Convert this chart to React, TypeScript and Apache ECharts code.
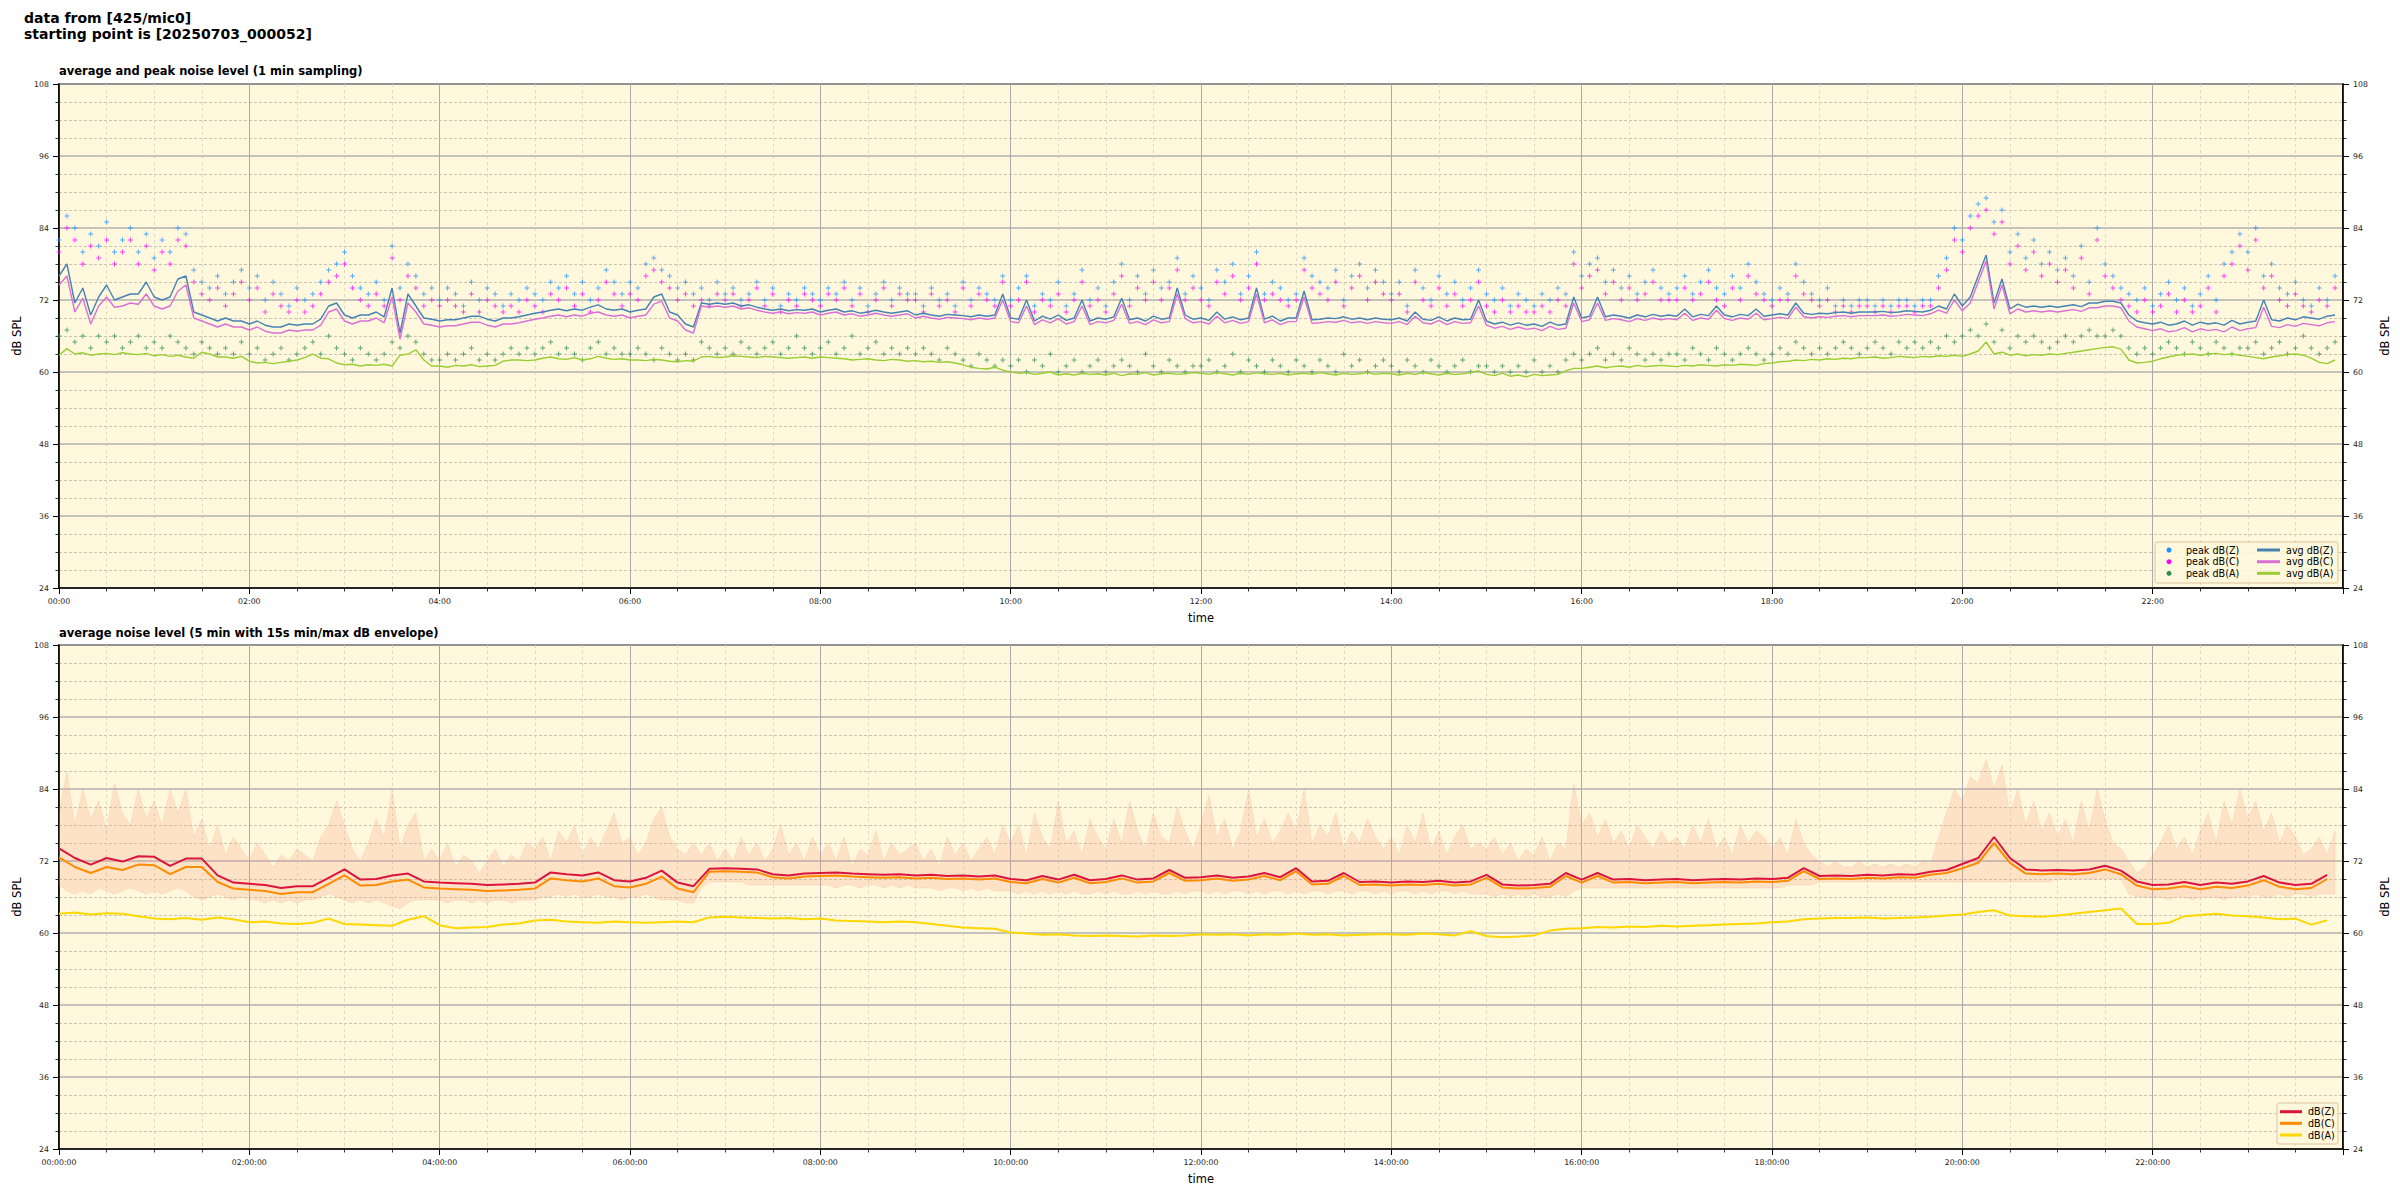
import React, { useEffect, useRef } from "react";
import * as echarts from "echarts";

// ---------- DATA ----------
// top panel: 5-minute samples (minutes since 00:00 = index * 5)
const STEP_TOP = 5;
const avgZ = [
  76, 78, 71.5, 74, 69.5, 72.5, 74.5, 72, 72.5, 73, 73, 75,
  72.5, 72, 72.5, 75.5, 76, 70, 69.5, 69, 68.5, 69, 68.5, 68.5,
  68, 68.5, 67.8, 67.5, 67.5, 68, 67.8, 68, 68, 68.8, 71, 71.5,
  69.5, 69, 69.5, 69.5, 70, 69.2, 74, 66.5, 73, 71, 69, 68.8,
  68.5, 68.7, 68.7, 69, 69.3, 69.3, 68.8, 68.5, 69, 69, 69.2, 69.5,
  69.8, 70, 70.3, 70.5, 70.2, 70.5, 70.3, 70.8, 71.2, 70.5, 70.3, 70.5,
  70, 70.3, 70.5, 72.5, 73, 70, 69.5, 68, 67.5, 71.5, 71.3, 71.5,
  71.3, 71.5, 71, 71.2, 70.8, 70.5, 70.3, 70.5, 70.2, 70.4, 70.3, 70.5,
  70, 70.3, 70.5, 70, 70.2, 69.8, 70, 70.3, 70, 69.8, 70, 70.2,
  69.5, 69.8, 69.5, 69.3, 69.6, 69.5, 69.4, 69.2, 69.5, 69.3, 69.5, 73,
  69, 68.8, 72, 68.5, 69.3, 68.8, 69.5, 68.6, 69, 72, 68.5, 69,
  68.8, 69.2, 72.3, 68.7, 69, 68.5, 69.3, 68.8, 69, 74, 69.5, 68.8,
  69, 68.6, 70, 68.8, 69.2, 68.7, 69, 74, 68.8, 69.3, 68.5, 69,
  69, 73.5, 68.7, 68.8, 69, 68.9, 69.2, 68.8, 69, 68.7, 69, 68.8,
  68.7, 69, 68.5, 70, 68.8, 68.6, 69.2, 68.5, 69, 68.7, 68.8, 72,
  68.5, 68, 68.3, 67.8, 68.2, 67.8, 68, 67.6, 68.3, 67.8, 68, 72.5,
  69, 69.3, 72.5, 69.2, 69.5, 69.3, 69, 69.5, 69.2, 69.6, 69.3, 69.5,
  69.3, 70.5, 69.2, 69.6, 69.4, 71, 69.5, 69.2, 69.6, 69.4, 70.5, 69.3,
  69.5, 69.7, 69.5, 71.5, 69.8, 69.6, 69.8, 69.7, 69.9, 70, 69.8, 70,
  70, 70, 70.1, 69.9, 70, 70.2, 70.1, 70, 70.3, 71, 70.5, 73,
  71, 72.5, 76, 79.5, 71.5, 75.5, 70.5, 71.3, 70.8, 71, 70.8, 71,
  70.8, 71, 71.2, 70.9, 71.5, 71.5, 71.8, 71.8, 71.5, 69.5, 68.5, 68.2,
  68, 68.3, 67.8, 68, 68.5, 67.8, 68.3, 68, 68.2, 67.8, 68.6, 68,
  68.3, 68.5, 72, 68.7, 68.5, 69, 68.7, 69.2, 69, 68.8, 69.3, 69.5,
];
const avgC = [
  74.5, 76, 70, 72.3, 68, 71, 72.5, 70.8, 71, 71.5, 71.3, 73,
  71, 70.5, 71, 73.5, 74.5, 69, 68.5, 68, 67.5, 68, 67.5, 67.5,
  67, 67.5, 66.8, 66.5, 66.5, 67, 66.8, 67, 67, 67.8, 70, 70.5,
  68.5, 68, 68.5, 68.5, 69, 68.2, 72.5, 65.5, 71.5, 70, 68, 67.8,
  67.5, 67.7, 67.7, 68, 68.3, 68.3, 67.8, 67.5, 68, 68, 68.2, 68.5,
  68.8, 69, 69.3, 69.5, 69.2, 69.5, 69.3, 69.8, 70, 69.5, 69.3, 69.5,
  69, 69.3, 69.5, 71.3, 71.8, 69, 68.5, 67, 66.5, 71, 70.8, 71,
  70.8, 71, 70.5, 70.7, 70.3, 70, 69.8, 70, 69.7, 69.9, 69.8, 70,
  69.5, 69.8, 70, 69.5, 69.7, 69.3, 69.5, 69.8, 69.5, 69.3, 69.5, 69.7,
  69, 69.3, 69, 68.8, 69.1, 69, 68.9, 68.7, 69, 68.8, 69, 72,
  68.4, 68.2, 71, 67.9, 68.7, 68.2, 68.9, 68, 68.4, 71, 67.9, 68.4,
  68.2, 68.6, 71.3, 68.1, 68.4, 67.9, 68.7, 68.2, 68.4, 73, 68.9, 68.2,
  68.4, 68, 69.3, 68.2, 68.6, 68.1, 68.4, 73, 68.2, 68.7, 67.9, 68.4,
  68.4, 72.5, 68.1, 68.2, 68.4, 68.3, 68.6, 68.2, 68.4, 68.1, 68.4, 68.2,
  68.1, 68.4, 67.9, 69.3, 68.2, 68, 68.6, 67.9, 68.4, 68.1, 68.2, 71,
  67.8, 67.3, 67.6, 67.1, 67.5, 67.1, 67.3, 66.9, 67.6, 67.1, 67.3, 71.5,
  68.4, 68.7, 71.5, 68.6, 68.9, 68.7, 68.4, 68.9, 68.6, 69, 68.7, 68.9,
  68.7, 69.8, 68.6, 69, 68.8, 70.3, 68.9, 68.6, 69, 68.8, 69.8, 68.7,
  68.9, 69.1, 68.9, 70.8, 69.2, 69, 69.2, 69.1, 69.3, 69.4, 69.2, 69.4,
  69.4, 69.4, 69.5, 69.3, 69.4, 69.6, 69.5, 69.4, 69.7, 70.3, 69.8, 72,
  70.2, 71.5, 75, 78.5, 70.5, 74.5, 69.7, 70.5, 70, 70.2, 70, 70.2,
  70, 70.2, 70.4, 70.1, 70.7, 70.7, 71, 71, 70.7, 68.5, 67.5, 67.2,
  66.9, 67.2, 66.7, 66.9, 67.4, 66.7, 67.2, 66.9, 67.1, 66.7, 67.5, 66.9,
  67.2, 67.4, 70.8, 67.6, 67.4, 67.9, 67.6, 68.1, 67.9, 67.7, 68.2, 68.4,
];
const avgA = [
  62.8, 63.9, 63, 63.2, 62.8, 63, 63.1, 62.9, 63.2, 63, 62.9, 63.1,
  62.7, 62.9, 62.6, 62.8, 62.5, 62.3, 63.3, 63, 62.5, 62.5, 62.3, 62.6,
  61.8, 61.5, 61.6, 61.4, 61.6, 61.8, 62, 62.4, 63, 62.3, 62.2, 61.5,
  61.2, 61.3, 61, 61.2, 61.1, 61.3, 61, 62.8, 63, 63.7, 62, 61,
  61, 60.8, 61.1, 61, 61.2, 60.9, 61, 61.1, 61.8, 62, 62, 61.9,
  62, 62.3, 62.5, 62.2, 62.1, 62.4, 62, 62.2, 62.6, 62.3, 62.1, 62.2,
  62, 62, 61.9, 62.1, 62, 61.8, 61.7, 61.9, 61.8, 62.5, 62.6, 62.4,
  62.5, 62.7, 62.6, 62.5, 62.4, 62.6, 62.5, 62.4, 62.3, 62.4, 62.5, 62.3,
  62.5, 62.4, 62.3, 62.2, 62, 62.1, 62.2, 62, 61.9, 62.1, 62, 61.8,
  61.9, 61.7, 61.8, 61.6, 61.7, 61.5, 61.2, 60.8, 60.6, 60.5, 60.8, 60.3,
  60, 59.8, 59.9, 59.6, 59.8, 60, 59.5, 59.7, 59.5, 59.8, 59.6, 59.7,
  59.5, 59.8, 59.4, 59.7, 59.6, 59.9, 59.5, 59.7, 59.8, 59.6, 59.7, 59.9,
  59.8, 59.6, 59.9, 59.7, 59.5, 59.8, 59.6, 59.9, 59.7, 59.6, 59.8, 59.5,
  59.7, 59.8, 59.6, 59.9, 59.7, 59.5, 59.8, 59.6, 59.7, 59.9, 59.6, 59.8,
  59.7, 59.5, 59.8, 59.6, 59.9, 59.7, 59.5, 59.8, 59.6, 59.7, 59.9, 60.2,
  59.6, 59.4, 59.8, 59.3, 59.5, 59.2, 59.6, 59.4, 59.5, 59.6, 60.2, 60.6,
  60.6, 60.8, 61, 60.7, 60.9, 61, 60.8, 61.1, 60.9, 61, 61.1, 61,
  60.9, 61.1, 61, 61.2, 61.1, 61, 61.2, 61.1, 61.3, 61.2, 61.1, 61.4,
  61.5, 61.7, 61.8, 62, 61.9, 62.1, 62, 62.2, 62.1, 62.3, 62.2, 62.4,
  62.4, 62.5, 62.3, 62.4, 62.6, 62.5, 62.4, 62.6, 62.5, 62.7, 62.6, 62.8,
  62.6, 63, 63.5, 65, 63, 63.3, 62.8, 63, 62.7, 62.9, 62.8, 63,
  62.9, 63.1, 63.3, 63.5, 63.7, 63.9, 64.1, 64.2, 63.8, 62, 61.5, 61.6,
  61.8, 62.2, 62.5, 62.8, 62.9, 63, 62.8, 63, 63.1, 62.9, 63, 62.8,
  62.6, 62.4, 62.2, 62.5, 62.7, 62.9, 63, 62.8, 62.3, 61.6, 61.4, 62,
];
const peakZ = [
  82, 86, 84, 80, 83, 81, 85, 80, 82, 84, 80, 83,
  79, 82, 80, 84, 83, 77, 75, 74, 76, 73, 75, 77,
  74, 76, 72, 75, 73, 71, 74, 72, 73, 75, 77, 78,
  80, 76, 74, 73, 75, 72, 81, 74, 78, 76, 73, 74,
  72, 74, 73, 71, 75, 72, 74, 73, 71, 73, 72, 74,
  73, 72, 75, 74, 76, 73, 75, 72, 74, 77, 75, 73,
  75, 74, 78, 79, 77, 76, 74, 75, 73, 74, 72, 75,
  73, 74, 72, 73, 75, 72, 74, 71, 73, 72, 74, 73,
  72, 74, 73, 75, 72, 74, 71, 73, 75, 72, 74, 73,
  73, 71, 74, 72, 73, 71, 75, 72, 74, 73, 72, 76,
  72, 74, 76, 71, 73, 72, 75, 71, 73, 77, 72, 74,
  71, 75, 78, 72, 76, 73, 77, 74, 75, 79, 73, 76,
  74, 72, 77, 75, 78, 73, 76, 80, 73, 75, 74, 72,
  73, 79, 76, 75, 74, 77, 72, 76, 78, 74, 77, 75,
  73, 75, 71, 77, 74, 72, 76, 73, 75, 72, 74, 77,
  73, 72, 74, 71, 73, 72, 71, 73, 72, 74, 73, 80,
  76, 78, 79, 75, 77, 74, 76, 73, 75, 77, 74, 73,
  74, 76, 73, 75, 77, 74, 73, 76, 74, 78, 75, 73,
  72, 74, 73, 78, 75, 73, 72, 74, 71, 72, 71, 72,
  72, 71, 72, 71, 72, 72, 71, 72, 72, 76, 79, 84,
  82, 86, 88, 89, 85, 87, 80, 83, 79, 82, 78, 80,
  77, 79, 76, 81, 75, 84, 78, 76, 74, 73, 72, 74,
  71, 73, 75, 72, 74, 71, 73, 76, 72, 78, 80, 83,
  80, 84, 76, 78, 74, 73, 75, 72, 71, 74, 72, 76,
];
const peakC = [
  80, 84, 82, 78, 81, 79, 82, 78, 80, 82, 78, 81,
  77, 80, 78, 82, 81, 75, 73, 72, 74, 71, 73, 75,
  72, 74, 70, 73, 71, 70, 72, 70, 71, 73, 75, 76,
  78, 74, 72, 71, 73, 71, 79, 72, 76, 74, 71, 72,
  71, 72, 71, 70, 73, 70, 72, 71, 70, 71, 70, 72,
  71, 70, 73, 72, 74, 71, 73, 70, 72, 75, 73, 71,
  73, 72, 76, 77, 75, 74, 72, 73, 71, 72, 71, 73,
  72, 73, 71, 72, 74, 71, 73, 70, 72, 71, 73, 72,
  71, 73, 72, 74, 71, 73, 70, 72, 74, 71, 73, 72,
  72, 70, 73, 71, 72, 70, 74, 71, 73, 72, 71, 75,
  71, 72, 75, 70, 72, 71, 73, 70, 72, 75, 71, 72,
  70, 73, 76, 71, 74, 72, 75, 72, 74, 77, 72, 74,
  72, 71, 75, 73, 76, 72, 74, 78, 72, 73, 72, 71,
  72, 77, 74, 73, 72, 75, 71, 74, 76, 72, 75, 73,
  72, 73, 70, 75, 72, 71, 74, 71, 73, 71, 72, 75,
  71, 70, 72, 70, 71, 70, 70, 71, 70, 72, 71, 78,
  74, 76, 77, 73, 75, 72, 74, 72, 73, 75, 72, 72,
  72, 74, 72, 73, 75, 72, 71, 74, 72, 76, 73, 72,
  71, 72, 72, 76, 73, 72, 71, 72, 70, 71, 70, 71,
  71, 70, 71, 70, 71, 71, 70, 71, 71, 74, 77, 82,
  80, 84, 86, 87, 83, 85, 78, 81, 77, 80, 76, 78,
  75, 77, 74, 79, 73, 82, 76, 74, 72, 71, 70, 72,
  70, 71, 73, 70, 72, 70, 71, 74, 70, 76, 78, 81,
  77, 82, 74, 76, 72, 71, 73, 71, 70, 72, 71, 74,
];
const peakA = [
  66, 67, 65, 66, 64, 66, 65, 66, 64, 65, 66, 64,
  65, 64, 66, 65, 64, 63, 65, 64, 63, 64, 63, 65,
  63, 64, 62, 63, 64, 62, 63, 64, 65, 63, 66, 64,
  63, 62, 64, 63, 62, 63, 65, 64, 66, 65, 63, 62,
  62, 63, 62, 63, 64, 62, 63, 62, 63, 64, 63, 64,
  63, 64, 65, 63, 64, 63, 62, 64, 65, 63, 64, 63,
  63, 64, 63, 62, 64, 63, 62, 63, 62, 65, 64, 63,
  64, 63, 65, 64, 63, 64, 65, 63, 64, 66, 64, 63,
  64, 65, 63, 64, 66, 63, 64, 65, 63, 64, 63, 64,
  63, 64, 63, 62, 64, 63, 62, 61, 63, 62, 61, 62,
  61, 62, 60, 62, 61, 63, 60, 61, 62, 60, 61, 62,
  60, 61, 62, 61, 60, 63, 61, 60, 62, 61, 60, 61,
  61, 62, 60, 61, 63, 60, 62, 61, 60, 62, 61, 60,
  62, 61, 60, 62, 61, 60, 63, 61, 62, 60, 61, 62,
  61, 60, 62, 61, 60, 62, 61, 60, 61, 62, 60, 61,
  61, 60, 61, 60, 61, 60, 62, 60, 61, 60, 62, 63,
  62, 63, 64, 62, 63, 62, 64, 63, 62, 63, 62, 63,
  63, 62, 64, 63, 62, 64, 63, 62, 63, 64, 63, 62,
  63, 64, 63, 65, 64, 63, 64, 63, 64, 65, 64, 63,
  64, 65, 64, 63, 65, 64, 65, 64, 65, 64, 66, 65,
  66, 67, 66, 68, 65, 67, 64, 66, 65, 66, 65, 64,
  65, 66, 65, 66, 67, 66, 66, 67, 66, 64, 63, 64,
  63, 64, 65, 64, 63, 65, 64, 63, 65, 64, 63, 64,
  64, 65, 63, 64, 65, 63, 64, 66, 64, 63, 64, 65,
];

// bottom panel: 5-minute averages at 10-minute steps, envelope at 5-minute steps
const STEP_LINE = 10;
const STEP_ENV = 5;
const levZ = [
  74.1, 72.5, 71.4, 72.5, 71.9, 72.8,
  72.7, 71.2, 72.4, 72.4, 69.6, 68.4,
  68.2, 68, 67.5, 67.8, 67.8, 69.2,
  70.6, 68.9, 69, 69.6, 69.9, 68.6,
  68.4, 68.3, 68.2, 68, 68.1, 68.2,
  68.4, 70.1, 69.8, 69.6, 70.1, 68.8,
  68.6, 69.2, 70.4, 68.4, 67.8, 70.7,
  70.8, 70.7, 70.6, 69.8, 69.6, 69.9,
  70, 70.1, 69.9, 69.8, 69.7, 69.8,
  69.6, 69.7, 69.5, 69.6, 69.4, 69.6,
  69, 68.8, 69.5, 68.9, 69.7, 68.8,
  69, 69.6, 68.9, 69.1, 70.5, 69.2,
  69.3, 69.6, 69.2, 69.4, 70, 69.3,
  70.8, 68.6, 68.7, 70, 68.5, 68.6,
  68.4, 68.6, 68.5, 68.7, 68.4, 68.6,
  69.7, 68.1, 67.9, 68, 68.2, 70,
  68.9, 70, 68.9, 69, 68.8, 68.9,
  69, 68.8, 68.9, 69, 68.9, 69.1,
  69, 69.2, 70.8, 69.5, 69.6, 69.5,
  69.7, 69.6, 69.8, 69.7, 70.2, 70.5,
  71.5, 72.5, 76, 72.5, 70.6, 70.4,
  70.5, 70.4, 70.6, 71.2, 70.4, 68.6,
  68, 68.1, 68.5, 68, 68.4, 68.2,
  68.6, 69.5, 68.4, 68, 68.2, 69.7,
];
const levC = [
  72.6, 71, 70, 71, 70.5, 71.4,
  71.3, 69.8, 71, 71, 68.5, 67.4,
  67.2, 67, 66.5, 66.8, 66.8, 68.2,
  69.6, 67.9, 68, 68.6, 68.9, 67.6,
  67.4, 67.3, 67.2, 67, 67.1, 67.2,
  67.4, 69.1, 68.8, 68.6, 69.1, 67.8,
  67.6, 68.2, 69.4, 67.4, 66.8, 70.2,
  70.3, 70.2, 70.1, 69.3, 69.1, 69.4,
  69.5, 69.6, 69.4, 69.3, 69.2, 69.3,
  69.1, 69.2, 69, 69.1, 68.9, 69.1,
  68.5, 68.3, 69, 68.4, 69.2, 68.3,
  68.5, 69.1, 68.4, 68.6, 70, 68.7,
  68.8, 69.1, 68.7, 68.9, 69.5, 68.8,
  70.3, 68.1, 68.2, 69.5, 68, 68.1,
  67.9, 68.1, 68, 68.2, 67.9, 68.1,
  69.2, 67.6, 67.4, 67.5, 67.7, 69.5,
  68.4, 69.5, 68.4, 68.5, 68.3, 68.4,
  68.5, 68.3, 68.4, 68.5, 68.4, 68.6,
  68.5, 68.7, 70.3, 69, 69.1, 69,
  69.2, 69.1, 69.3, 69.2, 69.7, 70,
  70.8, 71.7, 75, 71.7, 69.9, 69.8,
  69.9, 69.8, 70, 70.6, 69.8, 67.9,
  67.3, 67.4, 67.8, 67.3, 67.7, 67.5,
  67.9, 68.8, 67.7, 67.3, 67.5, 69,
];
const levA = [
  63.2, 63.4, 63.1, 63.3, 63.2, 62.8,
  62.4, 62.3, 62.5, 62.2, 62.6, 62.3,
  61.8, 61.9, 61.6, 61.5, 61.7, 62.4,
  61.5, 61.4, 61.3, 61.2, 62.2, 62.8,
  61.3, 60.8, 60.9, 61, 61.4, 61.6,
  62.1, 62.2, 61.9, 61.8, 61.7, 61.9,
  61.8, 61.7, 61.8, 61.9, 61.8, 62.6,
  62.7, 62.6, 62.5, 62.4, 62.5, 62.3,
  62.4, 62.1, 62, 61.9, 61.8, 61.9,
  61.8, 61.5, 61.2, 60.9, 60.8, 60.7,
  60.1, 59.9, 59.7, 59.8, 59.6, 59.5,
  59.6, 59.5, 59.4, 59.6, 59.5, 59.6,
  59.8, 59.7, 59.8, 59.6, 59.8, 59.7,
  59.9, 59.7, 59.8, 59.6, 59.7, 59.8,
  59.8, 59.7, 59.9, 59.8, 59.6, 60.3,
  59.5, 59.3, 59.4, 59.6, 60.4, 60.7,
  60.8, 61, 60.9, 61.1, 61, 61.2,
  61.1, 61.2, 61.3, 61.4, 61.5, 61.6,
  61.8, 61.9, 62.3, 62.4, 62.5, 62.5,
  62.6, 62.4, 62.5, 62.6, 62.7, 62.9,
  63.1, 63.5, 63.8, 62.9, 62.8, 62.7,
  62.9, 63.2, 63.5, 63.8, 64.1, 61.5,
  61.5, 61.7, 62.8, 63, 63.2, 62.9,
  62.8, 62.6, 62.3, 62.4, 61.4, 62.1,
];
const envLo = [
  68, 67, 66.5, 67, 66.5, 67.5, 67, 66.5, 67, 67.5, 67, 66.5,
  67, 66.5, 67, 67.5, 67, 66, 65.5, 66, 66.5, 66, 65.5, 66,
  65.5, 65.5, 65, 65.5, 65, 65.5, 65, 65.5, 65.5, 66, 66.5, 66,
  65.5, 65, 65.5, 65, 65.5, 65, 64.5, 64, 65, 65.5, 65.5, 65.5,
  65.5, 65, 65.5, 65.5, 65, 65.5, 65, 65.5, 65.5, 65, 65.5, 65.5,
  65.5, 66, 66, 66.5, 66, 66.5, 66, 66, 66.5, 66, 66, 65.5,
  66, 66, 66.5, 66, 65.5, 65.5, 65.5, 65, 65, 67.5, 68.5, 68.5,
  68.5, 68.5, 68.5, 68, 68, 68, 68, 68, 68, 68, 68, 68,
  68, 68, 67.5, 68, 68, 67.5, 68, 68, 67.5, 68, 67.5, 68,
  67.5, 67.5, 67.5, 67, 67.5, 67.5, 67, 67.5, 67, 67.5, 67, 67,
  67, 66.5, 67, 66.5, 67, 66.5, 67, 66.5, 67, 66.5, 66.5, 67,
  66.5, 67, 66.5, 66.5, 67, 66.5, 67, 66.5, 66.5, 67, 66.5, 67,
  67, 66.5, 67, 66.5, 67, 67, 66.5, 67, 66.5, 67, 67, 66.5,
  67, 66.5, 67, 67, 66.5, 67, 67, 66.5, 67, 67, 66.5, 67,
  66.5, 67, 67, 66.5, 67, 66.5, 67, 67, 66.5, 67, 66.5, 66.5,
  66.5, 66, 66.5, 66, 66.5, 66, 66.5, 66, 66, 66.5, 66, 67,
  67.5, 67.5, 67.5, 67.5, 67.5, 67.5, 67.5, 67.5, 67.5, 67.5, 67.5, 67.5,
  67.5, 67.5, 67.5, 67.5, 67.5, 67.5, 67.5, 67.5, 67.5, 67.5, 67.5, 67.5,
  67.5, 67.5, 68, 68, 68, 68, 68.5, 68.5, 68.5, 68.5, 68.5, 68.5,
  68.5, 68.5, 68.5, 68.5, 68.5, 68.5, 68.5, 68.5, 68.5, 68.5, 68.5, 68.5,
  68.5, 68.5, 68.5, 68.5, 68.5, 68.5, 68.5, 68.5, 68.5, 68.5, 68.5, 68.5,
  69, 69, 69, 69, 69, 69, 69, 69, 69, 66.5, 66, 66,
  66, 66, 65.5, 66, 66, 65.5, 66, 66, 66, 65.5, 66, 66,
  66, 66.5, 66, 66, 66.5, 66, 66.5, 66.5, 66, 66.5, 66.5, 66.5,
];
const envHi = [
  80, 87, 78, 84, 79, 82, 77, 85, 80, 78, 84, 79,
  82, 78, 84, 80, 84, 76, 79, 74, 78, 73, 76, 74,
  72, 75, 73, 71, 73, 72, 74, 73, 72, 76, 78, 82,
  78, 74, 72, 75, 79, 76, 84, 74, 78, 80, 72, 74,
  72, 75, 71, 73, 72, 70, 72, 74, 71, 73, 72, 75,
  74, 76, 72, 77, 75, 78, 73, 76, 74, 77, 80, 75,
  76, 73, 75, 79, 81, 76, 74, 73, 75, 73, 75, 72,
  74, 72, 76, 73, 75, 72, 74, 78, 73, 75, 72, 76,
  73, 75, 72, 76, 71, 74, 73, 77, 72, 75, 73, 74,
  75, 72, 74, 71, 76, 73, 75, 72, 74, 76, 73, 78,
  75, 78, 73, 80, 76, 74, 82, 75, 77, 73, 79, 76,
  74, 79, 75, 82, 77, 74, 80, 76, 75, 81, 77, 74,
  78, 83, 76, 79, 74, 77, 84, 76, 79, 75, 77, 80,
  77, 84, 75, 78, 76, 80, 74, 77, 75, 79, 76, 74,
  76, 73, 78, 75, 80, 74, 77, 73, 76, 78, 74, 75,
  74, 76, 73, 75, 72, 74, 73, 76, 72, 75, 74, 85,
  78, 80, 76, 79, 75, 77, 74, 78, 76, 74, 77, 75,
  76, 74, 78, 75, 79, 74, 76, 73, 78, 75, 77, 76,
  74, 76, 73, 79, 75, 73, 72, 71, 72, 71, 71, 72,
  71, 71.5, 71, 71.5, 71, 71.5, 71, 72, 71.5, 76, 80, 84,
  82, 86, 85, 89, 84, 88, 80, 84, 78, 82, 77, 80,
  76, 79, 75, 82, 77, 84, 79, 75, 74, 72, 70, 71,
  73, 75, 78, 74, 76, 73, 77, 80, 75, 82, 78, 84,
  79, 82, 77, 80, 75, 78, 76, 73, 74, 76, 73, 77,
];

const Y_MIN = 24;
const Y_MAX = 108;
const Y_STEP = 12;
const X_MAX = 1440;
const X_STEP = 120;

const TITLE_LINES = ["data from [425/mic0]", "starting point is [20250703_000052]"];
const TOP_TITLE = "average and peak noise level (1 min sampling)";
const BOTTOM_TITLE = "average noise level (5 min with 15s min/max dB envelope)";

// ---------- CHART ----------
const FONT = "'DejaVu Sans', sans-serif";
const C = {
  peakZ: "#1e90ff",
  peakC: "#ff00ff",
  peakA: "#2e8b57",
  avgZ: "#4682b4",
  avgC: "#da70d6",
  avgA: "#9acd32",
  Z: "#dc143c",
  Cw: "#ff8c00",
  A: "#ffd700",
};
const PLUS = "path://M2,0h1v2h2v1h-2v2h-1v-2h-2v-1h2z";

const pad = (n: number) => String(n).padStart(2, "0");
const fmtHM = (v: number) => (v >= X_MAX ? "" : `${pad(Math.floor(v / 60))}:${pad(v % 60)}`);
const fmtHMS = (v: number) => (v >= X_MAX ? "" : `${pad(Math.floor(v / 60))}:${pad(v % 60)}:00`);
const pairs = (arr: number[], step: number) => arr.map((v, i) => [i * step, v]);

const GRID_L = 59;
const GRID_W = 2284;
const GRID_H = 504;
const TOP1 = 84;
const TOP2 = 645;

function mkX(gi: number, fmt: (v: number) => string) {
  return {
    type: "value",
    gridIndex: gi,
    min: 0,
    max: X_MAX,
    interval: X_STEP,
    position: "bottom",
    name: "time",
    nameLocation: "middle",
    nameGap: 24,
    nameTextStyle: { fontSize: 11.5, color: "#000", fontFamily: FONT },
    axisLine: { show: true, onZero: false, lineStyle: { color: "#000", width: 1.5 } },
    axisTick: { show: true, length: 6, lineStyle: { color: "#000", width: 1 } },
    minorTick: { show: true, splitNumber: 4, length: 3.5, lineStyle: { color: "#000", width: 0.8 } },
    axisLabel: { formatter: fmt, fontSize: 7.8, color: "#222", margin: 9, fontFamily: FONT },
    splitLine: { show: true, lineStyle: { color: "#aaaaaa", width: 1 } },
    minorSplitLine: { show: true, lineStyle: { color: "#d6d0bc", type: [3, 3], width: 0.8 } },
  };
}

function mkY(gi: number, pos: "left" | "right") {
  const left = pos === "left";
  return {
    type: "value",
    gridIndex: gi,
    position: pos,
    min: Y_MIN,
    max: Y_MAX,
    interval: Y_STEP,
    name: "dB SPL",
    nameLocation: "middle",
    nameRotate: 90,
    nameGap: left ? 34 : 30,
    nameTextStyle: { fontSize: 11.5, color: "#000", fontFamily: FONT },
    axisLine: { show: true, onZero: false, lineStyle: { color: "#000", width: 1.5 } },
    axisTick: { show: true, length: 6, lineStyle: { color: "#000", width: 1 } },
    minorTick: { show: true, splitNumber: 4, length: 3.5, lineStyle: { color: "#000", width: 0.8 } },
    axisLabel: { fontSize: 7.8, color: "#222", margin: 10, fontFamily: FONT },
    splitLine: { show: left, lineStyle: { color: "#b0b0b0", width: 1.5 } },
    minorSplitLine: { show: left, lineStyle: { color: "#bdb7a6", type: [3, 2], width: 0.8 } },
  };
}

function legendBox(x: number, y: number, w: number, h: number) {
  return {
    type: "rect",
    shape: { x, y, width: w, height: h, r: 2 },
    style: { fill: "rgba(255,248,220,0.85)", stroke: "#dcc39c", lineWidth: 1 },
    z: 100,
  };
}
function legendText(x: number, y: number, text: string) {
  return {
    type: "text",
    x,
    y,
    style: { text, font: `9.6px ${FONT}`, fill: "#000", textAlign: "left", textVerticalAlign: "middle" },
    z: 101,
  };
}
function legendLine(x1: number, x2: number, y: number, color: string) {
  return {
    type: "line",
    shape: { x1, y1: y, x2, y2: y },
    style: { stroke: color, lineWidth: 3 },
    z: 101,
  };
}
function legendDot(x: number, y: number, color: string) {
  return { type: "circle", shape: { cx: x, cy: y, r: 2.5 }, style: { fill: color }, z: 101 };
}

function buildOption() {
  const rows1 = [550, 561.7, 573.3];
  const rows2 = [1111.7, 1123.3, 1135];
  const graphic: any[] = [
    {
      type: "text",
      x: 24,
      y: 18,
      style: { text: TITLE_LINES[0], font: `bold 14px ${FONT}`, fill: "#000", textVerticalAlign: "middle" },
    },
    {
      type: "text",
      x: 24,
      y: 33.5,
      style: { text: TITLE_LINES[1], font: `bold 14px ${FONT}`, fill: "#000", textVerticalAlign: "middle" },
    },
    {
      type: "text",
      x: GRID_L,
      y: 70.5,
      style: { text: TOP_TITLE, font: `bold 11.5px ${FONT}`, fill: "#000", textVerticalAlign: "middle" },
    },
    {
      type: "text",
      x: GRID_L,
      y: 633,
      style: { text: BOTTOM_TITLE, font: `bold 11.5px ${FONT}`, fill: "#000", textVerticalAlign: "middle" },
    },
    legendBox(2155, 542, 183, 41),
    legendDot(2169, rows1[0], C.peakZ),
    legendDot(2169, rows1[1], C.peakC),
    legendDot(2169, rows1[2], C.peakA),
    legendText(2186, rows1[0], "peak dB(Z)"),
    legendText(2186, rows1[1], "peak dB(C)"),
    legendText(2186, rows1[2], "peak dB(A)"),
    legendLine(2257, 2280, rows1[0], C.avgZ),
    legendLine(2257, 2280, rows1[1], C.avgC),
    legendLine(2257, 2280, rows1[2], C.avgA),
    legendText(2286, rows1[0], "avg dB(Z)"),
    legendText(2286, rows1[1], "avg dB(C)"),
    legendText(2286, rows1[2], "avg dB(A)"),
    legendBox(2277, 1103, 61, 41),
    legendLine(2280, 2302, rows2[0], C.Z),
    legendLine(2280, 2302, rows2[1], C.Cw),
    legendLine(2280, 2302, rows2[2], C.A),
    legendText(2308, rows2[0], "dB(Z)"),
    legendText(2308, rows2[1], "dB(C)"),
    legendText(2308, rows2[2], "dB(A)"),
  ];

  const scatter = (name: string, arr: number[], color: string) => ({
    name,
    type: "scatter",
    xAxisIndex: 0,
    yAxisIndex: 0,
    data: pairs(arr, STEP_TOP),
    symbol: PLUS,
    symbolSize: 5,
    itemStyle: { color, opacity: 0.75 },
    z: 2,
  });
  const line = (name: string, arr: number[], step: number, color: string, width: number, xi: number, yi: number, z: number) => ({
    name,
    type: "line",
    xAxisIndex: xi,
    yAxisIndex: yi,
    data: pairs(arr, step),
    showSymbol: false,
    symbol: "none",
    lineStyle: { color, width },
    itemStyle: { color },
    z,
  });

  const envData = envLo.map((v, i) => [i * STEP_ENV, v, envHi[i]]);

  return {
    animation: false,
    backgroundColor: "#ffffff",
    textStyle: { fontFamily: FONT },
    grid: [
      { left: GRID_L, top: TOP1, width: GRID_W, height: GRID_H, show: true, backgroundColor: "#fff8dc", borderColor: "#000", borderWidth: 1.5 },
      { left: GRID_L, top: TOP2, width: GRID_W, height: GRID_H, show: true, backgroundColor: "#fff8dc", borderColor: "#000", borderWidth: 1.5 },
    ],
    xAxis: [mkX(0, fmtHM), mkX(1, fmtHMS)],
    yAxis: [mkY(0, "left"), mkY(0, "right"), mkY(1, "left"), mkY(1, "right")],
    graphic,
    series: [
      scatter("peak dB(Z)", peakZ, C.peakZ),
      scatter("peak dB(C)", peakC, C.peakC),
      scatter("peak dB(A)", peakA, C.peakA),
      line("avg dB(Z)", avgZ, STEP_TOP, C.avgZ, 1.4, 0, 0, 4),
      line("avg dB(C)", avgC, STEP_TOP, C.avgC, 1.4, 0, 0, 4),
      line("avg dB(A)", avgA, STEP_TOP, C.avgA, 1.4, 0, 0, 4),
      {
        name: "envelope",
        type: "custom",
        xAxisIndex: 1,
        yAxisIndex: 2,
        data: envData,
        encode: { x: 0, y: [1, 2] },
        clip: true,
        z: 2,
        renderItem: (params: any, api: any) => {
          if (params.dataIndex !== 0) return null;
          const upper = envData.map((d) => api.coord([d[0], d[2]]));
          const lower = envData.map((d) => api.coord([d[0], d[1]])).reverse();
          return {
            type: "polygon",
            shape: { points: upper.concat(lower) },
            style: { fill: "rgba(245,150,125,0.22)", stroke: "rgba(240,160,140,0.3)", lineWidth: 0.6 },
          };
        },
      },
      line("dB(Z)", levZ, STEP_LINE, C.Z, 2, 1, 2, 5),
      line("dB(C)", levC, STEP_LINE, C.Cw, 2, 1, 2, 4),
      line("dB(A)", levA, STEP_LINE, C.A, 2, 1, 2, 4),
    ],
  };
}

export default function App() {
  const ref = useRef<HTMLDivElement>(null);
  useEffect(() => {
    if (!ref.current) return;
    const chart = echarts.init(ref.current, undefined, { renderer: "svg" });
    chart.setOption(buildOption() as any);
    return () => chart.dispose();
  }, []);
  return (
    <div
      ref={ref}
      style={{ position: "absolute", left: 0, top: 0, width: 2400, height: 1200, background: "#fff" }}
    />
  );
}
